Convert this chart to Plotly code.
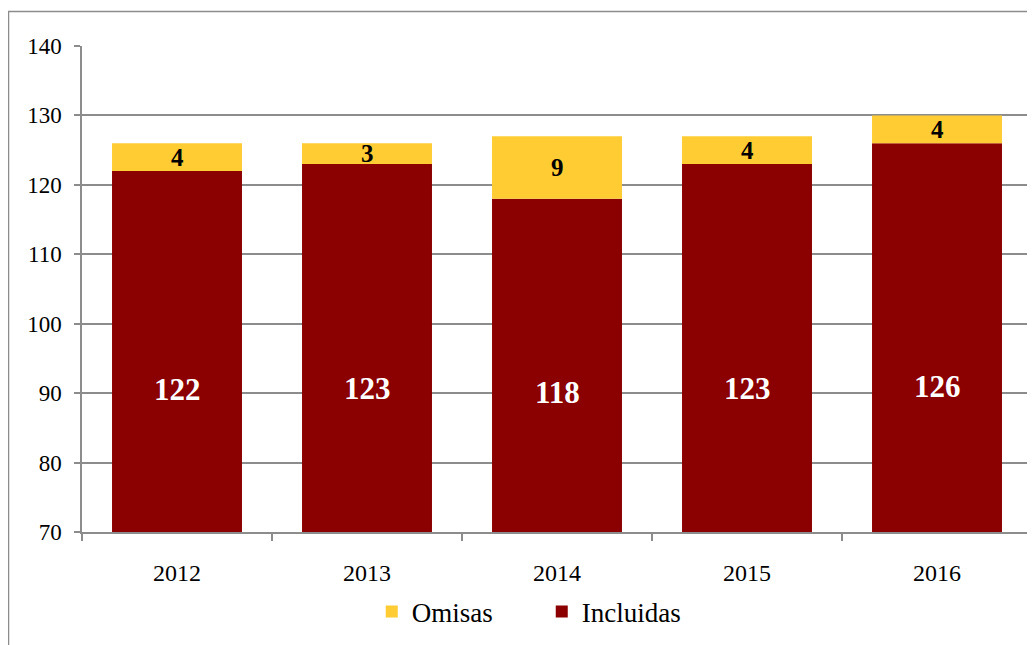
import plotly.graph_objects as go

years = ["2012", "2013", "2014", "2015", "2016"]
incluidas = [122, 123, 118, 123, 126]
omisas = [4, 3, 9, 4, 4]

YMIN, YMAX = 70, 140
RED = "#8B0000"
YEL = "#FFCC33"
GRID = "#8c8c8c"
FONT = "Liberation Serif, Times New Roman, serif"

fig = go.Figure()
fig.add_trace(go.Bar(x=years, y=incluidas, name="Incluidas", marker_color=RED,
                     marker_line_width=0, base=0))
fig.add_trace(go.Bar(x=years, y=omisas, base=incluidas, name="Omisas", marker_color=YEL,
                     marker_line_width=0))

# data labels (x given as category index)
for i, (inc, om) in enumerate(zip(incluidas, omisas)):
    fig.add_annotation(x=i, y=YMIN + 0.29 * (YMAX - YMIN) + 0.1 * (inc - 120),
                       text=f"<b>{inc}</b>",
                       showarrow=False, font=dict(family=FONT, size=31, color="white"))
    fig.add_annotation(x=i, y=inc + om / 2, text=f"<b>{om}</b>",
                       showarrow=False, font=dict(family=FONT, size=25, color="black"))

# page body has an 8px margin, so the figure is shifted by 8px
L, R, T, B = 74, 3, 38, 113
W, H = 1027, 637
pw, ph = W - L - R, H - T - B
fig.add_shape(type="rect", xref="paper", yref="paper",
              x0=(0.5 - L) / pw, x1=(W + 5 - L) / pw,
              y0=(ph - (H + 5 - T)) / ph, y1=(ph - (3.5 - T)) / ph,
              line=dict(color="#8c8c8c", width=1.5), fillcolor="rgba(0,0,0,0)", layer="below")

fig.update_layout(
    width=W, height=H,
    margin=dict(l=L, r=R, t=T, b=B, autoexpand=False),
    barmode="overlay",
    bargap=0.316,
    plot_bgcolor="white", paper_bgcolor="white",
    font=dict(family=FONT, color="black"),
    legend=dict(orientation="h", x=0.305, xanchor="left", y=-0.114, yanchor="top",
                font=dict(family=FONT, size=27), traceorder="reversed",
                itemwidth=30, entrywidth=125),
    showlegend=True,
)
fig.update_xaxes(type="category", range=[-0.5, len(years) - 0.5], automargin=False,
                 showline=True, linecolor=GRID,
                 linewidth=1.5, ticks="outside",
                 tickson="boundaries", ticklen=7, tickcolor=GRID, tickwidth=1.5,
                 tickangle=0,
                 tickfont=dict(family=FONT, size=24), ticklabelstandoff=18,
                 showgrid=False, mirror=False)
fig.update_yaxes(range=[YMIN, YMAX], dtick=10, automargin=False, showgrid=True,
                 gridcolor=GRID, gridwidth=1.5,
                 showline=True, linecolor=GRID, linewidth=1.5, ticks="outside", ticklen=6,
                 tickcolor=GRID, tickwidth=1.5, tickfont=dict(family=FONT, size=23),
                 ticklabelstandoff=8, zeroline=False)

fig.write_html("out.html")
